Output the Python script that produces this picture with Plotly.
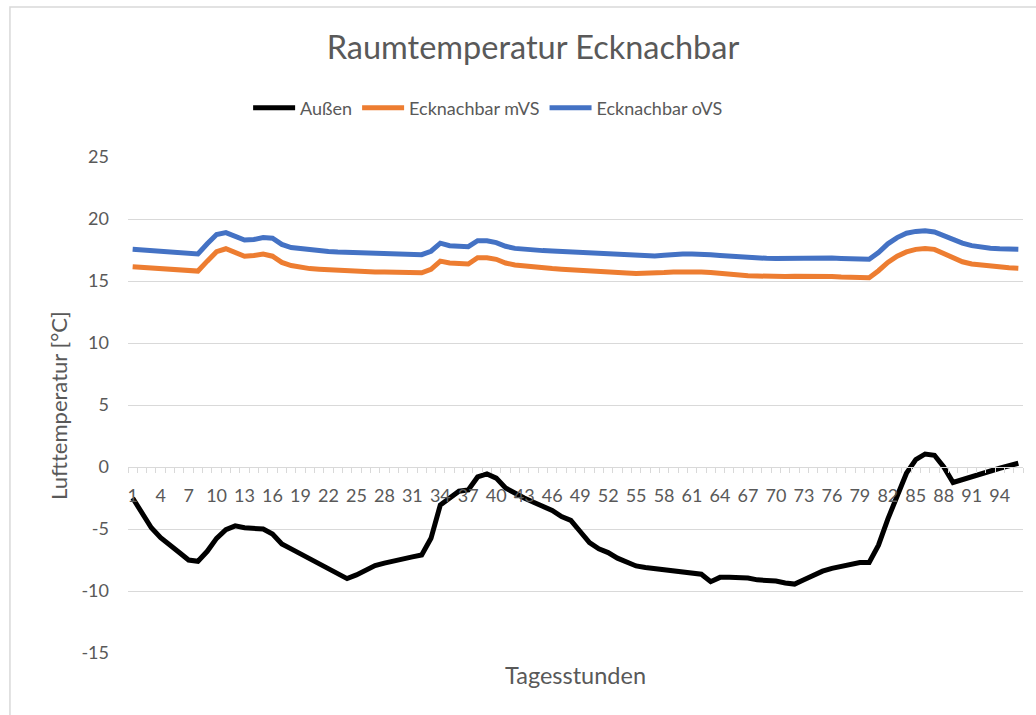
import plotly.graph_objects as go

hours = list(range(1, 97))

aussen = [-2.5, -3.8, -4.9, -5.7, -6.35, -6.9, -7.5, -7.6, -6.8, -5.75,
          -5.05, -4.75, -4.9, -4.9, -5.0, -5.4, -6.2, -6.6, -7.0, -7.4,
          -7.8, -8.2, -8.6, -9.0, -8.7, -8.3, -7.95, -7.75, -7.55, -7.35,
          -7.25, -7.1, -5.75, -3.06, -2.5, -1.95, -1.85, -0.8, -0.56, -0.9,
          -1.7, -2.15, -2.5, -2.85, -3.15, -3.5, -4.0, -4.3, -5.2, -6.1,
          -6.6, -6.9, -7.35, -7.65, -7.98, -8.1, -8.2, -8.3, -8.44, -8.46,
          -8.55, -8.65, -9.25, -8.9, -8.9, -8.9, -8.95, -9.1, -9.1, -9.2,
          -9.35, -9.44, -9.1, -8.7, -8.4, -8.17, -8.0, -7.85, -7.7, -7.7,
          -6.3, -4.2, -2.3, -0.5, 0.6, 1.05, 0.95, 0.0, -1.25, -1.0,
          -0.8, -0.6, -0.35, -0.1, 0.1, 0.3]

mvs = [16.15, 16.1, 16.05, 16.0, 15.95, 15.9, 15.85, 15.8, 16.6, 17.36,
       17.6, 17.35, 17.0, 17.05, 17.18, 17.0, 16.5, 16.25, 16.1, 16.0,
       15.95, 15.9, 15.88, 15.78, 15.75, 15.74, 15.73, 15.72, 15.71, 15.7,
       15.68, 15.66, 15.94, 16.6, 16.45, 16.4, 16.37, 16.88, 16.88, 16.75,
       16.45, 16.29, 16.2, 16.1, 16.05, 16.0, 15.95, 15.92, 15.88, 15.83,
       15.8, 15.75, 15.7, 15.65, 15.6, 15.6, 15.62, 15.68, 15.73, 15.75,
       15.75, 15.73, 15.68, 15.6, 15.53, 15.47, 15.42, 15.4, 15.37, 15.35,
       15.37, 15.39, 15.4, 15.4, 15.4, 15.37, 15.33, 15.3, 15.28, 15.27,
       15.83, 16.5, 17.0, 17.35, 17.55, 17.63, 17.55, 17.2, 16.83, 16.55,
       16.37, 16.27, 16.2, 16.12, 16.06, 16.02]

ovs = [17.56, 17.5, 17.45, 17.4, 17.35, 17.3, 17.22, 17.18, 18.0, 18.75,
       18.9, 18.65, 18.3, 18.35, 18.5, 18.45, 17.95, 17.7, 17.6, 17.5,
       17.43, 17.37, 17.33, 17.3, 17.28, 17.26, 17.24, 17.22, 17.2, 17.18,
       17.15, 17.12, 17.4, 18.05, 17.85, 17.8, 17.77, 18.25, 18.25, 18.1,
       17.8, 17.63, 17.55, 17.5, 17.45, 17.42, 17.38, 17.35, 17.3, 17.25,
       17.2, 17.15, 17.1, 17.07, 17.03, 17.0, 17.02, 17.08, 17.15, 17.18,
       17.18, 17.18, 17.12, 17.06, 17.0, 16.95, 16.9, 16.85, 16.83, 16.82,
       16.83, 16.86, 16.9, 16.9, 16.88, 16.85, 16.82, 16.8, 16.78, 16.75,
       17.3, 18.0, 18.5, 18.85, 19.0, 19.06, 18.95, 18.65, 18.3, 18.05,
       17.85, 17.73, 17.65, 17.6, 17.58, 17.56]

series_names = ["Außen", "Ecknachbar mVS", "Ecknachbar oVS"]
series_values = [aussen, mvs, ovs]
series_colors = ["#000000", "#ED7D31", "#4472C4"]

x_tickvals = list(range(1, 97, 3))
x_ticktext = [str(v) for v in x_tickvals]
y_tickvals = [-15, -10, -5, 0, 5, 10, 15, 20, 25]
y_ticktext = [str(v) for v in y_tickvals]

FONT = "Lato, Calibri, Carlito, sans-serif"
GRAY = "#595959"
GRID = "#d9d9d9"

fig = go.Figure()
for name, vals, col in zip(series_names, series_values, series_colors):
    fig.add_trace(go.Scatter(x=hours, y=vals, mode="lines", name=name,
                             line=dict(color=col, width=5)))

W, H = 1036, 715
L, T = 128, 157
R = W - 1022.7
B = H - 653
pw, ph = W - L - R, H - T - B

def px_x(p):
    return (p - L) / pw

def px_y(p):
    return (H - B - p) / ph

fig.update_layout(
    width=W, height=H,
    margin=dict(l=L, r=R, t=T, b=B, pad=0),
    paper_bgcolor="white", plot_bgcolor="white",
    font=dict(family=FONT, color=GRAY, size=18),
    title=dict(text="Raumtemperatur Ecknachbar", x=533 / W, xref="container",
               xanchor="center", y=1 - 48 / H, yref="container",
               yanchor="middle",
               font=dict(size=32.5, color=GRAY, family=FONT)),
    showlegend=True,
    legend=dict(orientation="h", x=px_x(488), xanchor="center", xref="paper",
                y=px_y(108), yanchor="middle", font=dict(size=18, color=GRAY),
                itemwidth=42, traceorder="normal"),
    xaxis=dict(range=[0.5, 96.5], tickvals=x_tickvals, ticktext=x_ticktext,
               showgrid=False, zeroline=False, showline=True, linecolor=GRID,
               linewidth=1, anchor="free", position=15 / 40, ticks="",
               tickfont=dict(size=18, color=GRAY), ticklabelstandoff=12,
               minor=dict(ticks="outside", dtick=1, tick0=0.5, ticklen=5,
                          tickcolor=GRID, tickwidth=1, showgrid=False)),
    yaxis=dict(range=[-15, 25], tickvals=y_tickvals, ticktext=y_ticktext,
               showgrid=True, gridcolor=GRID, gridwidth=1, zeroline=False,
               showline=False, ticks="", tickfont=dict(size=18, color=GRAY),
               ticklabelstandoff=18),
)

fig.add_annotation(text="Tagesstunden", xref="paper", yref="paper",
                   x=px_x(575), y=px_y(675), xanchor="center", yanchor="middle",
                   showarrow=False, font=dict(size=23.5, color=GRAY, family=FONT))
fig.add_annotation(text="Lufttemperatur [°C]", xref="paper", yref="paper",
                   x=px_x(58), y=px_y(405), xanchor="center", yanchor="middle",
                   textangle=-90, showarrow=False,
                   font=dict(size=22, color=GRAY, family=FONT))

fig.add_shape(type="rect", xref="paper", yref="paper",
              x0=px_x(10), x1=px_x(1060), y0=px_y(740), y1=px_y(7),
              line=dict(color=GRID, width=1.5), fillcolor="rgba(0,0,0,0)",
              layer="below")

fig.write_html("out.html", config={"displayModeBar": False},
               post_script="document.body.style.margin='0';document.body.style.overflow='hidden';")
